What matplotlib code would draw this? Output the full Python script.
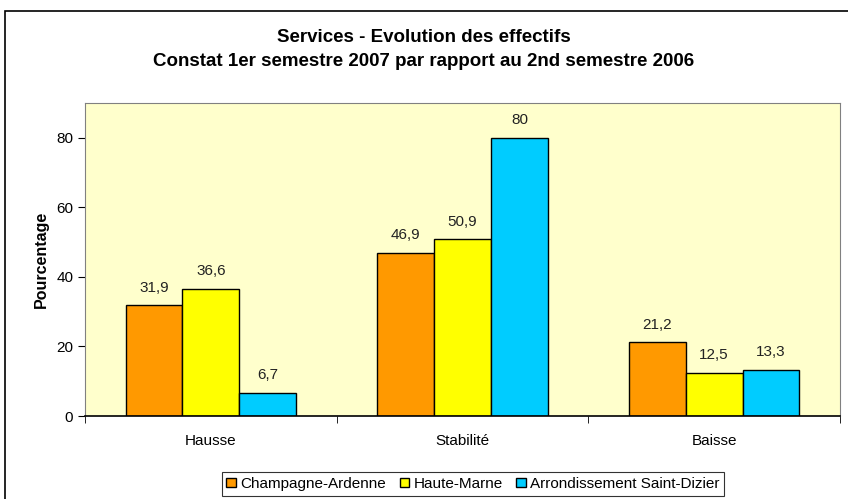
import numpy as np
import matplotlib.pyplot as plt
from matplotlib.patches import Rectangle

plt.rcParams['font.family'] = ['Liberation Sans', 'DejaVu Sans']

categories = ["Hausse", "Stabilité", "Baisse"]
series_names = ["Champagne-Ardenne", "Haute-Marne", "Arrondissement Saint-Dizier"]
champagne = [31.9, 46.9, 21.2]
haute_marne = [36.6, 50.9, 12.5]
saint_dizier = [6.7, 80, 13.3]
colors = ["#FF9900", "#FFFF00", "#00CCFF"]

W, H = 848, 499
fig = plt.figure(figsize=(W / 100, H / 100), dpi=100)
ax = fig.add_axes([85 / W, 1 - 416 / H, (840 - 85) / W, (416 - 103) / H])
ax.set_facecolor("#FFFFCC")

# outer chart border
fig.patches.append(Rectangle((5 / W, -0.05), 1.1, 1 - 11 / H + 0.05,
                             transform=fig.transFigure, fill=False,
                             edgecolor="black", linewidth=1.2))

x = np.arange(len(categories))
bw = 0.226
for i, (vals, name, c) in enumerate(zip([champagne, haute_marne, saint_dizier],
                                         series_names, colors)):
    pos = x + (i - 1) * bw
    ax.bar(pos, vals, bw, color=c, edgecolor="black", linewidth=1.0, label=name)
    for p, v in zip(pos, vals):
        lbl = f"{v:g}".replace(".", ",")
        ax.text(p, v + 3.0, lbl, ha="center", va="bottom", fontsize=11, color="#222222")

ax.set_xlim(-0.5, 2.5)
ax.set_ylim(0, 90)
ax.set_yticks([0, 20, 40, 60, 80])
ax.set_xticks(x)
ax.set_xticklabels(categories, fontsize=11)
ax.set_xticks([-0.5, 0.5, 1.5, 2.5], minor=True)
ax.tick_params(axis="x", which="major", length=0, pad=13)
ax.tick_params(axis="x", which="minor", length=5, color="black")
ax.tick_params(axis="y", labelsize=11, length=5, color="black")
for s in ["top", "right"]:
    ax.spines[s].set_color("#808080")
ax.spines["left"].set_color("#808080")
ax.spines["bottom"].set_color("black")
ax.spines["bottom"].set_linewidth(1.2)

ax.set_ylabel("Pourcentage", fontsize=11.5, fontweight="bold", labelpad=5)

fig.text(0.5, 1 - 37 / H, "Services - Evolution des effectifs",
         ha="center", va="center", fontsize=13.5, fontweight="bold")
fig.text(0.5, 1 - 61 / H, "Constat 1er semestre 2007 par rapport au 2nd semestre 2006",
         ha="center", va="center", fontsize=13.5, fontweight="bold")

leg = fig.legend(loc="center", bbox_to_anchor=(473 / W, 1 - 484 / H), ncol=3,
                 frameon=True, fancybox=False, edgecolor="black", fontsize=11,
                 handlelength=0.6, handleheight=0.6, handletextpad=0.3,
                 columnspacing=0.9, borderpad=0.3, borderaxespad=0)
leg.get_frame().set_linewidth(0.8)

fig.savefig("out.png", dpi=100)
